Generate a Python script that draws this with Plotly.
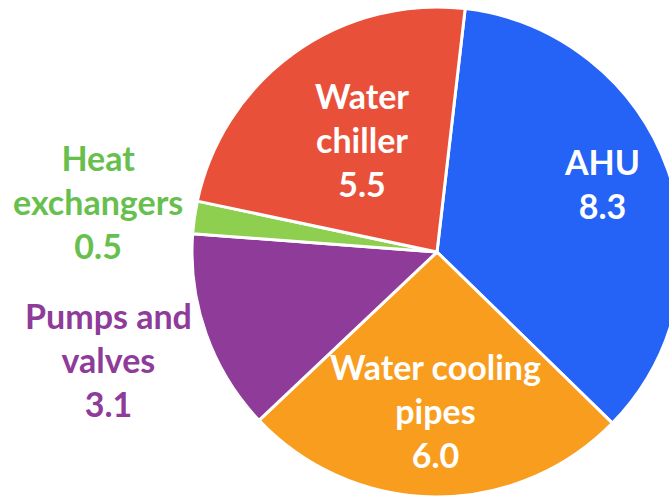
import math
import plotly.graph_objects as go

# Energy share by component (clockwise from the top)
labels = ["AHU", "Water cooling pipes", "Pumps and valves", "Heat exchangers", "Water chiller"]
label_lines = ["AHU", "Water cooling<br>pipes", "Pumps and<br>valves", "Heat<br>exchangers", "Water<br>chiller"]
values = [8.3, 6.0, 3.1, 0.5, 5.5]

slice_colors = ["#2563F6", "#F99D1E", "#8E3B99", "#8FCF50", "#E8503A"]
text_colors = ["#FFFFFF", "#FFFFFF", "#8E3B99", "#67C04E", "#FFFFFF"]
# radial placement of each label (fraction of radius) and small angular nudges
label_radius = [0.73, 0.645, 1.41, 1.40, 0.55]
label_nudge_deg = [-3.0, 0.0, 1.4, 0.3, 2.0]

W, H = 700, 520
cx, cy, R = 437, 252, 245
rotation = 6.6

fig = go.Figure(go.Pie(
    labels=labels,
    values=values,
    sort=False,
    direction="clockwise",
    rotation=rotation,
    marker=dict(colors=slice_colors, line=dict(color="white", width=3)),
    textinfo="none",
    hoverinfo="label+value",
    domain=dict(x=[(cx - R) / W, (cx + R) / W], y=[(H - cy - R) / H, (H - cy + R) / H]),
))

total = sum(values)
angle = rotation
for name, v, col, rf, nd in zip(label_lines, values, text_colors, label_radius, label_nudge_deg):
    span = v / total * 360.0
    mid = math.radians(angle + span / 2 + nd)
    angle += span
    px = cx + rf * R * math.sin(mid)
    py = cy - rf * R * math.cos(mid)
    fig.add_annotation(
        x=px / W, y=1 - py / H, xref="paper", yref="paper",
        text=f"{name}<br>{v:.1f}", showarrow=False,
        xanchor="center", yanchor="middle", align="center",
        font=dict(family="Lato", size=34, color=col, weight="bold"),
    )

fig.update_layout(
    width=W, height=H, autosize=False,
    margin=dict(l=0, r=0, t=0, b=0),
    showlegend=False,
    paper_bgcolor="white", plot_bgcolor="white",
)

fig.write_html(
    "out.html",
    post_script="document.documentElement.style.overflow='hidden';document.body.style.overflow='hidden';document.body.style.margin='0';",
)
